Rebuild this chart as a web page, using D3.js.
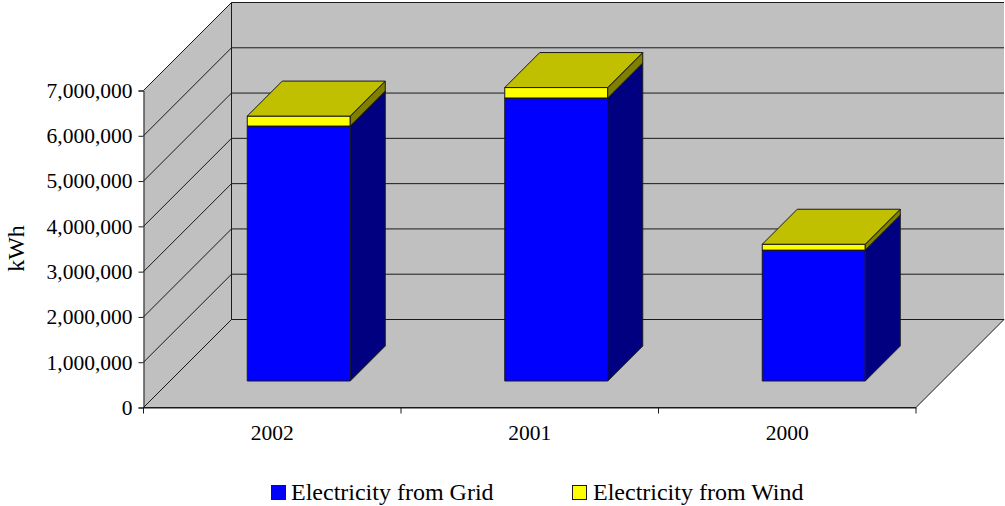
<!DOCTYPE html>
<html>
<head>
<meta charset="utf-8">
<script src="https://cdn.jsdelivr.net/npm/d3@7"></script>
<style>
  html, body { margin: 0; padding: 0; background: #fff; }
  svg { display: block; }
</style>
</head>
<body>
<div id="chart"></div>
<script>
// values
const years = ["2002", "2001", "2000"];
const grid = [5630000, 6250000, 2890000];
const wind = [220000, 230000, 130000];
const seriesNames = ["Electricity from Grid", "Electricity from Wind"];
const yTicks = [0, 1000000, 2000000, 3000000, 4000000, 5000000, 6000000, 7000000];

const width = 1005, height = 506;
const plotLeft = 143.5, plotRight = 916, plotBottom = 407.5, plotTop = 90.5;
const depth = 88; // floor depth, drawn at 45 degrees
const barFront = 26.5, barBack = 61.5; // where the bars sit on the floor
const font = "'Liberation Serif', 'Times New Roman', serif";
const line = "#1a1a1a";

const xScale = d3.scaleBand().domain(years).range([plotLeft, plotRight]);
const yScale = d3.scaleLinear().domain([0, 7000000]).range([plotBottom, plotTop]);
const barWidth = 103;

const colors = {
  "Electricity from Grid": {front: "#0000ff", top: "#0000c0", side: "#000080"},
  "Electricity from Wind": {front: "#ffff00", top: "#c0c000", side: "#808000"}
};

const svg = d3.select("#chart").append("svg")
    .attr("width", width)
    .attr("height", height)
    .attr("viewBox", [0, 0, width, height])
    .attr("font-family", font)
    .attr("font-size", 21.5)
    .attr("fill", "#000");

const poly = pts => pts.map(p => p.join(",")).join(" ");

// walls and floor
const wall = svg.append("g").attr("stroke", line).attr("stroke-width", 1).attr("fill", "#c0c0c0");
wall.append("polygon")
    .attr("points", poly([[plotLeft + depth, plotBottom - depth], [plotRight + depth, plotBottom - depth], [plotRight + depth, plotTop - depth], [plotLeft + depth, plotTop - depth]]))
    .attr("stroke", "none");
wall.append("polygon")
    .attr("points", poly([[plotLeft, plotBottom], [plotLeft + depth, plotBottom - depth], [plotLeft + depth, plotTop - depth], [plotLeft, plotTop]]))
    .attr("stroke", "none");
wall.append("polygon")
    .attr("points", poly([[plotLeft, plotBottom], [plotRight, plotBottom], [plotRight + depth, plotBottom - depth], [plotLeft + depth, plotBottom - depth]]));

// grid lines run along the side wall and across the back wall
svg.append("g")
    .attr("fill", "none")
    .attr("stroke", line)
    .selectAll("polyline")
    .data(yTicks)
    .join("polyline")
    .attr("points", d => poly([[plotLeft, yScale(d)], [plotLeft + depth, yScale(d) - depth], [plotRight + depth, yScale(d) - depth]]));

svg.append("line")
    .attr("x1", plotLeft + depth).attr("x2", plotLeft + depth)
    .attr("y1", plotTop - depth).attr("y2", plotBottom - depth)
    .attr("stroke", line);

// stacked boxes
const table = years.map((y, i) => ({year: y, [seriesNames[0]]: grid[i], [seriesNames[1]]: wind[i]}));
const stacked = d3.stack().keys(seriesNames)(table);

const boxes = svg.append("g")
    .attr("stroke", line)
    .attr("stroke-width", 1)
    .attr("stroke-linejoin", "round");

stacked.forEach(s => {
  s.forEach(d => {
    // the front face is shifted along the floor by the same amount it is lifted
    const cx = xScale(d.data.year) + xScale.bandwidth() / 2 + barFront;
    const x0 = cx - barWidth / 2, x1 = cx + barWidth / 2;
    const y0 = yScale(d[0]) - barFront, y1 = yScale(d[1]) - barFront;
    const dp = barBack - barFront;
    const c = colors[s.key];
    boxes.append("polygon").attr("fill", c.front)
        .attr("points", poly([[x0, y0], [x1, y0], [x1, y1], [x0, y1]]));
    boxes.append("polygon").attr("fill", c.side)
        .attr("points", poly([[x1, y0], [x1 + dp, y0 - dp], [x1 + dp, y1 - dp], [x1, y1]]));
    boxes.append("polygon").attr("fill", c.top)
        .attr("points", poly([[x0, y1], [x1, y1], [x1 + dp, y1 - dp], [x0 + dp, y1 - dp]]));
  });
});

// axes
const yAxis = d3.axisLeft(yScale)
    .tickValues(yTicks)
    .tickFormat(d3.format(","))
    .tickSize(5)
    .tickPadding(6);
svg.append("g")
    .attr("transform", `translate(${plotLeft},0)`)
    .call(yAxis)
    .call(g => g.attr("font-family", font).attr("font-size", 21.5))
    .call(g => g.selectAll("line,path").attr("stroke", line))
    .call(g => g.selectAll("text").attr("fill", "#000"));

const xAxis = d3.axisBottom(xScale).tickSize(0).tickPadding(17);
svg.append("g")
    .attr("transform", `translate(0,${plotBottom})`)
    .call(xAxis)
    .call(g => g.attr("font-family", font).attr("font-size", 21.5))
    .call(g => g.select(".domain").attr("stroke", line))
    .call(g => g.selectAll("text").attr("fill", "#000"));

// ticks between the categories
svg.append("g")
    .attr("stroke", line)
    .selectAll("line")
    .data(years.map(y => xScale(y)).concat(plotRight))
    .join("line")
    .attr("x1", d => d).attr("x2", d => d)
    .attr("y1", plotBottom).attr("y2", plotBottom + 6);

svg.append("text")
    .attr("transform", "translate(23.5,248.5) rotate(-90)")
    .attr("text-anchor", "middle")
    .attr("font-size", 24)
    .text("kWh");

// legend
const legendX = [271, 572];
const legendTextX = [20, 21];
const legend = svg.append("g")
    .selectAll("g")
    .data(seriesNames)
    .join("g")
    .attr("transform", (d, i) => `translate(${legendX[i]},485)`);
legend.append("rect")
    .attr("x", 0.5).attr("y", 0.5)
    .attr("width", 14).attr("height", 14)
    .attr("fill", d => colors[d].front)
    .attr("stroke", line);
legend.append("text")
    .attr("x", (d, i) => legendTextX[i])
    .attr("y", 14.5)
    .attr("font-size", 24)
    .text(d => d);
</script>
</body>
</html>
